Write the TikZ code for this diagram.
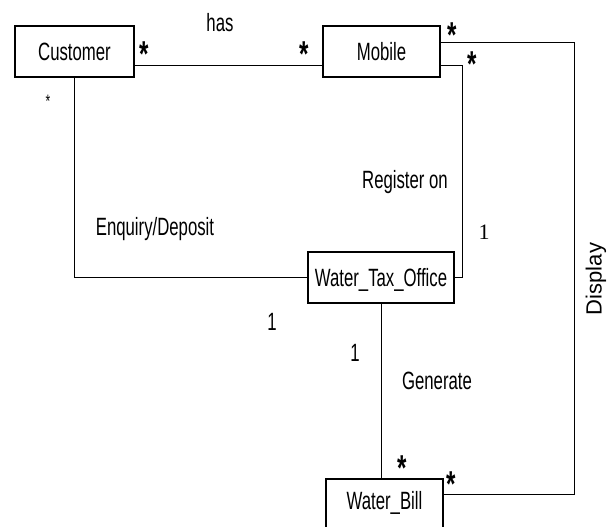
\documentclass[tikz,border=0pt]{standalone}
\usepackage{fontspec}
\setmainfont{Liberation Sans}[FakeStretch=0.67]
\newfontfamily\dispfont{Liberation Sans}
\newfontfamily\numserif{Liberation Serif}
\begin{document}
\begin{tikzpicture}[x=1pt,y=-1pt,
  box/.style={draw, line width=1.6pt, inner sep=0pt, text height=17.9pt, text depth=0pt,
    font=\fontsize{25}{28}\selectfont},
  conn/.style={line width=0.9pt},
  lab/.style={inner sep=0pt, anchor=base, font=\fontsize{25}{28}\selectfont},
  mult/.style={inner sep=0pt, anchor=north, font=\fontsize{36}{40}\selectfont\bfseries},
  smallmult/.style={inner sep=0pt, anchor=north, font=\fontsize{18}{20}\selectfont}]
\clip (0,0) rectangle (613,527);
\fill[white] (0,0) rectangle (613,527);

\node[box, minimum width=119pt, minimum height=51pt] (cust) at (74.5,51.5) {Customer};
\node[box, minimum width=117pt, minimum height=51pt] (mob) at (381.5,51.5) {Mobile};
\node[box, minimum width=146pt, minimum height=51pt] (wto) at (381,277.5) {Water\_Tax\_Office};
\node[box, minimum width=117pt, minimum height=51pt, text depth=7pt] (bill) at (384.5,504.5) {Water\_Bill};

\coordinate (yhas) at (0,65);
\coordinate (yup) at (0,42);
\coordinate (ydisp) at (0,494);
\coordinate (xreg) at (462,0);
\coordinate (xdisp) at (574,0);

\draw[conn] (cust.east |- yhas) -- (mob.west |- yhas);
\draw[conn] (mob.east |- yup) -- (xdisp |- yup) -- (xdisp |- ydisp) -- (bill.east |- ydisp);
\draw[conn] (mob.east |- yhas) -- (xreg |- yhas) -- (xreg |- wto.east) -- (wto.east);
\draw[conn] (cust.south) |- (wto.west);
\draw[conn] (wto.south) -- (wto.south |- bill.north);

\node[lab] (lhas) at (220,32) {has};
\node[lab] (lreg) at (405,188) {Register on};
\node[lab] (lenq) at (155,235) {Enquiry/Deposit};
\node[lab] (lgen) at (437,389) {Generate};
\node[lab] (lone1) at (272,330) {1};
\node[lab] (lone2) at (355,361) {1};
\node[lab, font=\fontsize{22}{24}\numserif] (lone3) at (484,239) {1};
\node[inner sep=0pt, rotate=90, font=\fontsize{22}{26}\dispfont] (ldisp) at (596,279) {Display};

\node[mult] (m1) at (144,42) {*};
\node[mult] (m2) at (304,42) {*};
\node[mult] (m3) at (452,23) {*};
\node[mult] (m4) at (472,52) {*};
\node[smallmult] (m5) at (48,95) {*};
\node[mult] (m6) at (402,456) {*};
\node[mult] (m7) at (451,472) {*};
\end{tikzpicture}
\end{document}
